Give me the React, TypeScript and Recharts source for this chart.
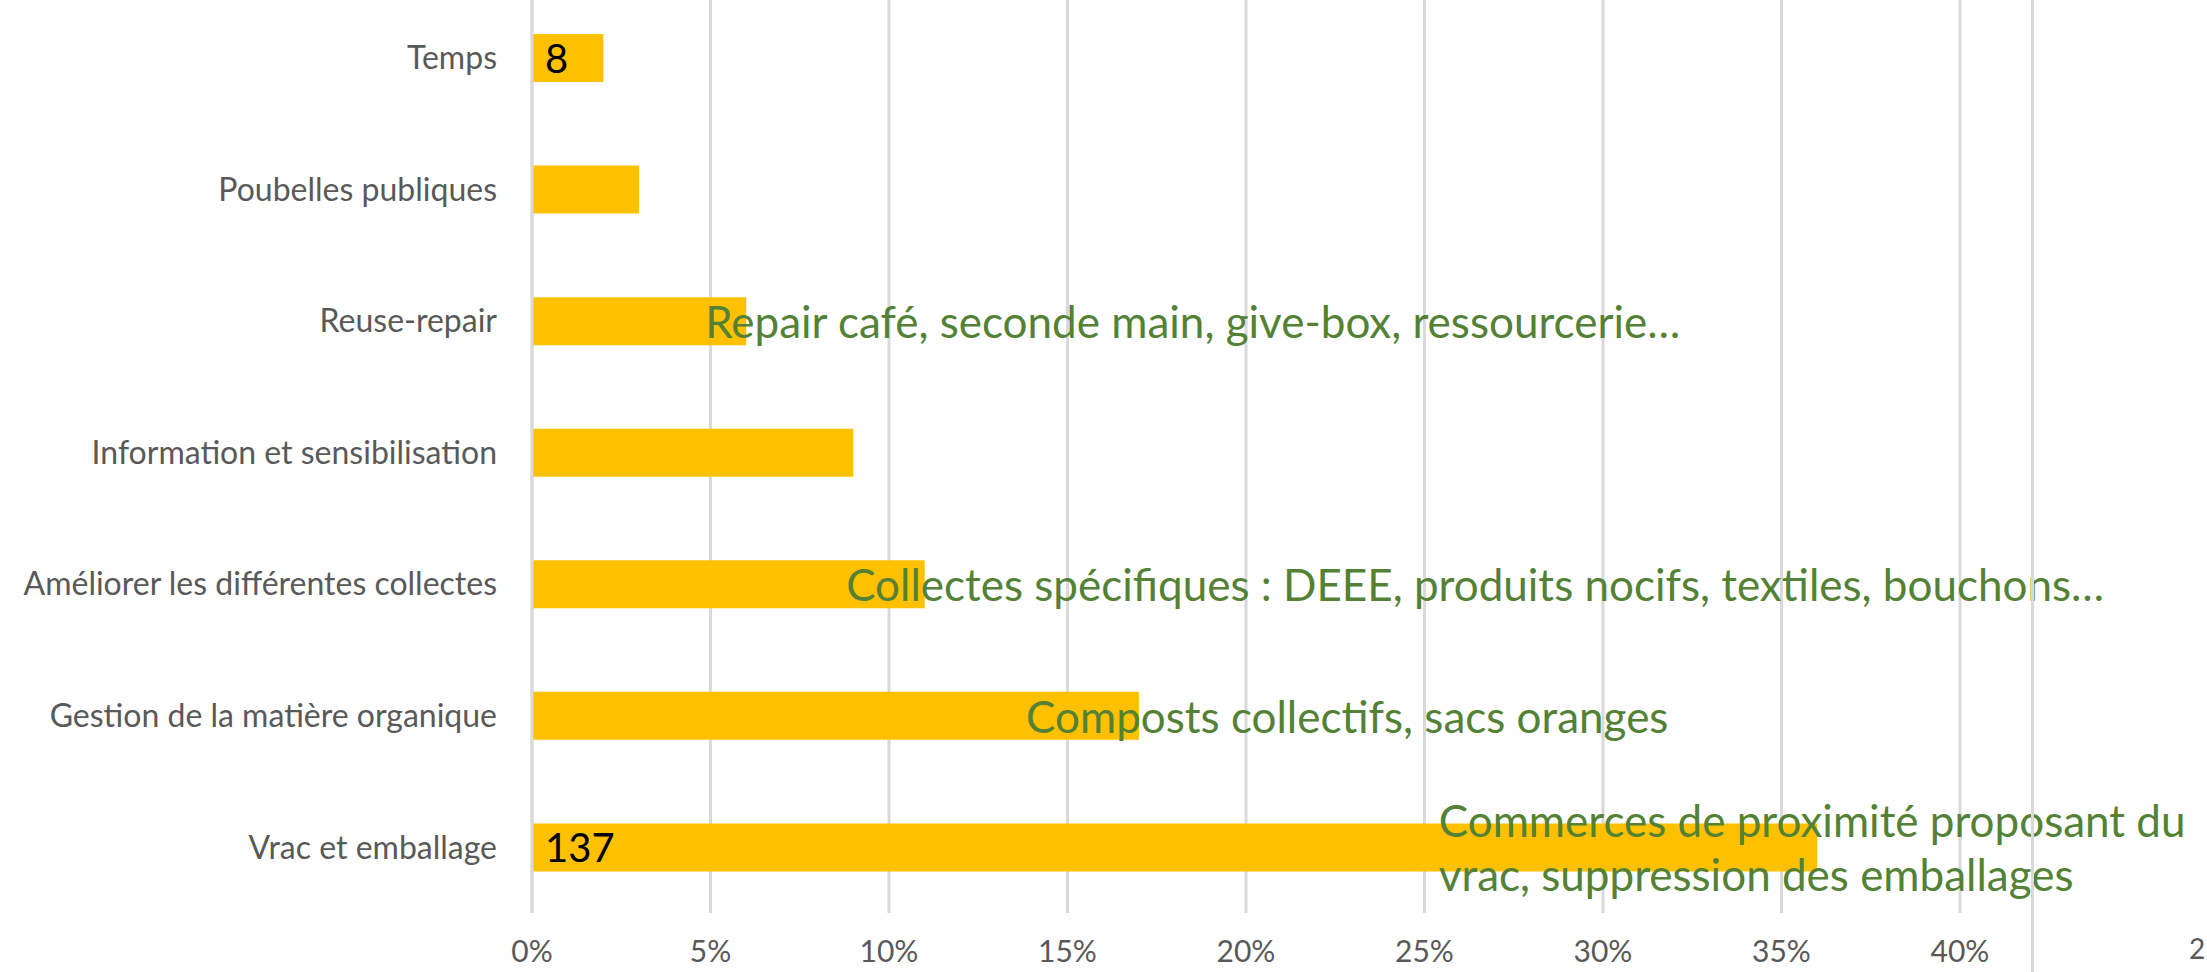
import React from 'react';
import { BarChart, Bar, XAxis, YAxis, CartesianGrid, LabelList } from 'recharts';

const categories = [
  'Temps',
  'Poubelles publiques',
  'Reuse-repair',
  'Information et sensibilisation',
  'Améliorer les différentes collectes',
  'Gestion de la matière organique',
  'Vrac et emballage',
];
const shares = [0.02, 0.03, 0.06, 0.09, 0.11, 0.17, 0.36];
const counts = [8, null, null, null, null, null, 137];
const notes = [
  [],
  [],
  ['Repair café, seconde main, give-box, ressourcerie…'],
  [],
  ['Collectes spécifiques : DEEE, produits nocifs, textiles, bouchons…'],
  ['Composts collectifs, sacs oranges'],
  ['Commerces de proximité proposant du', 'vrac, suppression des emballages'],
];
// where each note starts, in axis units
const noteAt = [0, 0, 0.0485, 0, 0.088, 0.1384, 0.254];
const xTicks = [0, 0.05, 0.1, 0.15, 0.2, 0.25, 0.3, 0.35, 0.4];

const FONT = 'Lato, "Noto Sans", sans-serif';

const data = categories.map((name, i) => ({ name, share: shares[i], count: counts[i] }));

function renderBarText(props: any) {
  const { x, y, width, height, index } = props;
  const cy = y + height / 2;
  const perUnit = width / shares[index];
  const lines = notes[index];
  const count = counts[index];
  return (
    <g>
      {count != null && (
        <text x={x + 13} y={cy} dominantBaseline="central" fontFamily={FONT} fontSize={40} fill="#000">
          {count}
        </text>
      )}
      {lines.map((line, k) => (
        <text
          key={k}
          x={x + perUnit * noteAt[index]}
          y={cy + (k - (lines.length - 1) / 2) * 54}
          dominantBaseline="central"
          fontFamily={FONT}
          fontSize={44}
          fill="#538135"
        >
          {line}
        </text>
      ))}
    </g>
  );
}

export default function App() {
  return (
    <div style={{ position: 'absolute', left: 0, top: 0, width: 2207, height: 972, overflow: 'hidden', background: '#fff' }}>
      <div style={{ position: 'absolute', left: 0, top: -16 }}>
        <BarChart
          width={2207}
          height={988}
          data={data}
          layout="vertical"
          margin={{ top: 8, right: 247, bottom: 0, left: 0 }}
        >
          <CartesianGrid horizontal={false} stroke="#d9d9d9" strokeWidth={3} />
          <XAxis
            type="number"
            domain={[0, 0.4]}
            ticks={xTicks}
            tickFormatter={(v: number) => `${Math.round(v * 100)}%`}
            axisLine={false}
            tickLine={false}
            tickSize={0}
            tickMargin={28}
            height={59}
            tick={{ fill: '#595959', fontSize: 30, fontFamily: FONT }}
            interval={0}
          />
          <YAxis
            type="category"
            dataKey="name"
            width={532}
            axisLine={{ stroke: '#d9d9d9', strokeWidth: 3 }}
            tickLine={false}
            tickSize={0}
            tickMargin={35}
            tick={{ fill: '#595959', fontSize: 32, fontFamily: FONT }}
            interval={0}
          />
          <Bar dataKey="share" fill="#FFC000" barSize={48} isAnimationActive={false}>
            <LabelList dataKey="share" content={renderBarText} />
          </Bar>
        </BarChart>
      </div>
      <div style={{ position: 'absolute', left: 2031, top: 0, width: 3, height: 972, background: '#d9d9d9' }} />
      <div style={{ position: 'absolute', left: 2189, top: 934, fontFamily: FONT, fontSize: 28, color: '#595959', lineHeight: 1 }}>
        2
      </div>
    </div>
  );
}
